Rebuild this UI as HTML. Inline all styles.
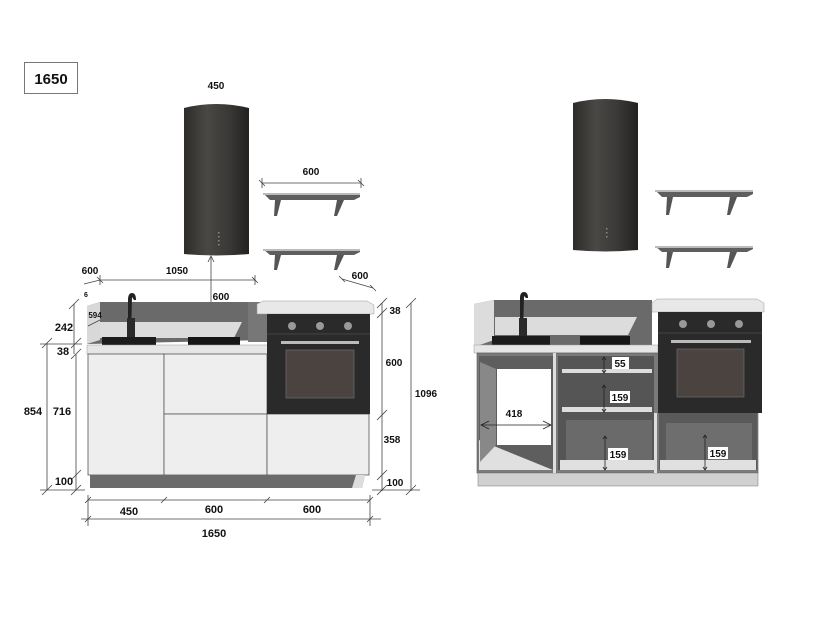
<!DOCTYPE html>
<html><head><meta charset="utf-8"><style>
html,body{margin:0;padding:0;background:#fff;}
svg{display:block;font-family:"Liberation Sans",Arial,sans-serif;font-weight:bold;}
text{font-size:10px;fill:#111;}
</style></head><body>
<svg width="840" height="630" viewBox="0 0 840 630" xmlns="http://www.w3.org/2000/svg">
<defs>
<linearGradient id="hood" x1="0" x2="1">
<stop offset="0" stop-color="#2e2c2a"/><stop offset="0.35" stop-color="#4a4845"/><stop offset="0.7" stop-color="#3a3836"/><stop offset="1" stop-color="#232120"/>
</linearGradient>
</defs>
<rect x="0" y="0" width="840" height="630" fill="#fff"/>
<rect x="24.5" y="62.5" width="53" height="31" fill="#fff" stroke="#777"/>
<text x="51" y="84" text-anchor="middle" style="font-size:15px">1650</text>

<text x="216" y="89" text-anchor="middle">450</text>
<path d="M184,108 Q216,100 249,108 L249,254 Q216,257 184,254 Z" fill="url(#hood)"/>
<g fill="#888"><rect x="218" y="232" width="1.5" height="1.5"/><rect x="218" y="236" width="1.5" height="1.5"/><rect x="218" y="240" width="1.5" height="1.5"/><rect x="218" y="244" width="1.5" height="1.5"/></g>
<line x1="262" y1="183" x2="361" y2="183" stroke="#444" stroke-width="0.8"/>
<path d="M259,180 L265,186 M358,180 L364,186 M262,178 L262,188 M361,178 L361,188" stroke="#444" stroke-width="0.8"/>
<text x="311" y="175" text-anchor="middle">600</text>
<g>
<path d="M263,193 L360,193 L360,197 L354,200 L270,200 Z" fill="#5e5e5e"/><rect x="263" y="193" width="97" height="2" fill="#bbb"/>
<path d="M275,200 L281,200 L277,216 L274,216 Z" fill="#555"/><path d="M337,200 L344,200 L337,216 L334,216 Z" fill="#555"/>
<path d="M263,249 L360,249 L360,252 L354,255 L270,255 Z" fill="#5e5e5e"/><rect x="263" y="249" width="97" height="2" fill="#bbb"/>
<path d="M275,255 L281,255 L277,270 L274,270 Z" fill="#555"/><path d="M337,255 L344,255 L337,270 L334,270 Z" fill="#555"/>
</g>

<g stroke="#444" stroke-width="0.8" fill="none">
<line x1="100" y1="280" x2="255" y2="280"/>
<path d="M97,277 L103,283 M252,277 L258,283 M100,275 L100,285 M255,275 L255,285"/>
<line x1="84" y1="284" x2="100" y2="280"/>
<line x1="342" y1="279" x2="373" y2="288"/>
<path d="M339,276 L345,282 M370,285 L376,291"/>
<line x1="211" y1="256" x2="211" y2="335"/>
<path d="M208,262 L211,256 L214,262 M208,329 L211,335 L214,329"/>
</g>
<text x="90" y="274" text-anchor="middle">600</text>
<text x="177" y="274" text-anchor="middle">1050</text>
<text x="360" y="279" text-anchor="middle">600</text>
<text x="221" y="300" text-anchor="middle">600</text>
<path d="M87,306 L100,302 L268,302 L268,340 L87,344 Z" fill="#6a6a6a"/>
<path d="M87,306 L100,302 L100,340 L87,344 Z" fill="#d8d8d8"/>
<path d="M100,322 L242,322 L234,338 L100,338 Z" fill="#dcdcdc"/>
<rect x="248" y="302" width="20" height="40" fill="#777"/>
<rect x="102" y="337" width="54" height="10" fill="#1c1c1c"/>
<rect x="188" y="337" width="52" height="10" fill="#161616"/>
<path d="M128,337 L128,300 Q128,293 132,293 Q136,293 136,300 L134,300 L132,297 L131,337 Z" fill="#222"/>
<rect x="127" y="318" width="8" height="19" fill="#2a2a2a"/>
<rect x="87" y="345" width="182" height="9" fill="#e6e6e6" stroke="#999" stroke-width="0.5"/>
<text x="86" y="297" text-anchor="middle" style="font-size:7px">6</text>
<text x="95" y="318" text-anchor="middle" style="font-size:8px">594</text>
<line x1="88" y1="326" x2="100" y2="320" stroke="#444" stroke-width="0.7"/>
<rect x="88" y="354" width="76" height="121" fill="#eeeeee" stroke="#555" stroke-width="0.8"/>
<rect x="164" y="354" width="103" height="60" fill="#eeeeee" stroke="#555" stroke-width="0.8"/>
<rect x="164" y="414" width="103" height="61" fill="#eeeeee" stroke="#555" stroke-width="0.8"/>
<rect x="267" y="414" width="102" height="61" fill="#eeeeee" stroke="#555" stroke-width="0.8"/>
<path d="M90,475 L365,475 L362,488 L90,488 Z" fill="#6b6b6b"/>
<path d="M356,475 L365,475 L362,488 L352,488 Z" fill="#ddd"/>
<path d="M257,304 L263,301 L367,301 L374,305 L374,314 L257,314 Z" fill="#e8e8e8" stroke="#999" stroke-width="0.5"/>
<rect x="267" y="314" width="103" height="100" fill="#2a2a2a"/>
<line x1="267" y1="334" x2="370" y2="334" stroke="#444"/>
<circle cx="292" cy="326" r="4" fill="#999"/><circle cx="320" cy="326" r="4" fill="#999"/><circle cx="348" cy="326" r="4" fill="#999"/>
<rect x="281" y="341" width="78" height="3" fill="#bbb"/>
<rect x="286" y="350" width="68" height="48" fill="#4a4340" stroke="#777" stroke-width="0.6"/>
<g stroke="#444" stroke-width="0.8">
<line x1="74" y1="304" x2="74" y2="354"/>
<line x1="76" y1="354" x2="76" y2="490"/>
<line x1="47" y1="343" x2="47" y2="490"/>
<path d="M69,309 L79,299 M42,348 L52,338 M71,348 L81,338 M71,359 L81,349 M71,480 L81,470 M42,495 L52,485 M71,495 L81,485"/>
<line x1="40" y1="344" x2="82" y2="344"/>
<line x1="40" y1="490" x2="85" y2="490"/>
</g>
<text x="64" y="331" text-anchor="middle" style="font-size:11px">242</text>
<text x="63" y="355" text-anchor="middle" style="font-size:11px">38</text>
<text x="33" y="415" text-anchor="middle" style="font-size:11px">854</text>
<text x="62" y="415" text-anchor="middle" style="font-size:11px">716</text>
<text x="64" y="485" text-anchor="middle" style="font-size:11px">100</text>
<g stroke="#444" stroke-width="0.8">
<line x1="382" y1="303" x2="382" y2="491"/>
<line x1="411" y1="303" x2="411" y2="491"/>
<path d="M377,308 L387,298 M377,318 L387,308 M377,420 L387,410 M377,480 L387,470 M377,495 L387,485 M406,308 L416,298 M406,495 L416,485"/>
<line x1="372" y1="490" x2="420" y2="490"/>
</g>
<text x="395" y="314" text-anchor="middle">38</text>
<text x="394" y="366" text-anchor="middle">600</text>
<text x="392" y="443" text-anchor="middle">358</text>
<text x="395" y="486" text-anchor="middle">100</text>
<text x="426" y="397" text-anchor="middle">1096</text>
<g stroke="#444" stroke-width="0.8">
<line x1="88" y1="500" x2="370" y2="500"/>
<line x1="81" y1="519" x2="381" y2="519"/>
<line x1="88" y1="495" x2="88" y2="526"/><line x1="370" y1="495" x2="370" y2="526"/>
<path d="M85,503 L91,497 M161,503 L167,497 M264,503 L270,497 M367,503 L373,497 M85,522 L91,516 M367,522 L373,516"/>
</g>
<text x="129" y="515" text-anchor="middle" style="font-size:11px">450</text>
<text x="214" y="513" text-anchor="middle" style="font-size:11px">600</text>
<text x="312" y="513" text-anchor="middle" style="font-size:11px">600</text>
<text x="214" y="537" text-anchor="middle" style="font-size:11px">1650</text>

<path d="M573,103 Q605,95 638,103 L638,250 Q605,253 573,250 Z" fill="url(#hood)"/>
<g fill="#888"><rect x="606" y="228" width="1.5" height="1.5"/><rect x="606" y="232" width="1.5" height="1.5"/><rect x="606" y="236" width="1.5" height="1.5"/></g>
<path d="M655,190 L753,190 L753,194 L747,197 L662,197 Z" fill="#5e5e5e"/><rect x="655" y="190" width="98" height="2" fill="#bbb"/>
<path d="M667,197 L673,197 L669,215 L666,215 Z" fill="#555"/><path d="M730,197 L737,197 L730,215 L727,215 Z" fill="#555"/>
<path d="M655,246 L753,246 L753,249 L747,252 L662,252 Z" fill="#5e5e5e"/><rect x="655" y="246" width="98" height="2" fill="#bbb"/>
<path d="M667,252 L673,252 L669,268 L666,268 Z" fill="#555"/><path d="M730,252 L737,252 L730,268 L727,268 Z" fill="#555"/>

<path d="M474,304 L494,300 L652,300 L652,345 L474,347 Z" fill="#6a6a6a"/>
<path d="M474,304 L494,300 L494,340 L474,347 Z" fill="#dcdcdc"/>
<path d="M495,317 L637,317 L628,335 L495,335 Z" fill="#dcdcdc"/>
<rect x="492" y="336" width="58" height="9" fill="#1c1c1c"/>
<rect x="580" y="336" width="50" height="9" fill="#161616"/>
<path d="M520,336 L520,298 Q520,292 524,292 Q528,292 528,298 L526,298 L524,296 L523,336 Z" fill="#222"/>
<rect x="519" y="318" width="8" height="18" fill="#2a2a2a"/>
<rect x="474" y="345" width="184" height="8" fill="#e6e6e6" stroke="#999" stroke-width="0.5"/>
<rect x="477" y="353" width="281" height="120" fill="#7a7a7a" stroke="#555" stroke-width="0.6"/>
<rect x="478" y="473" width="280" height="13" fill="#d0d0d0" stroke="#777" stroke-width="0.5"/>
<path d="M479,356 L553,356 L553,470 L479,470 Z" fill="#5e5e5e"/>
<path d="M479,440 L553,470 L479,470 Z" fill="#e0e0e0"/>
<rect x="497" y="369" width="54" height="76" fill="#fff"/>
<path d="M480,362 L496,369 L496,445 L480,462 Z" fill="#888"/>
<rect x="553" y="353" width="3" height="120" fill="#ddd"/>
<rect x="558" y="356" width="96" height="114" fill="#555"/>
<rect x="562" y="369" width="90" height="4" fill="#ddd"/>
<rect x="562" y="407" width="90" height="5" fill="#ddd"/>
<path d="M560,460 L654,460 L654,470 L560,470 Z" fill="#e0e0e0"/>
<path d="M566,420 L652,420 L652,460 L566,460 Z" fill="#6a6a6a"/>
<rect x="654" y="413" width="3" height="60" fill="#ddd"/>
<rect x="659" y="413" width="98" height="57" fill="#5a5a5a"/>
<path d="M666,423 L752,423 L752,460 L666,460 Z" fill="#6e6e6e"/>
<path d="M660,460 L756,460 L756,470 L660,470 Z" fill="#e0e0e0"/>
<path d="M652,303 L657,299 L757,299 L764,303 L764,312 L652,312 Z" fill="#e8e8e8" stroke="#999" stroke-width="0.5"/>
<rect x="658" y="312" width="104" height="101" fill="#2a2a2a"/>
<line x1="658" y1="333" x2="762" y2="333" stroke="#444"/>
<circle cx="683" cy="324" r="4" fill="#999"/><circle cx="711" cy="324" r="4" fill="#999"/><circle cx="739" cy="324" r="4" fill="#999"/>
<rect x="671" y="340" width="80" height="3" fill="#bbb"/>
<rect x="677" y="349" width="67" height="48" fill="#4a4340" stroke="#777" stroke-width="0.6"/>
<g stroke="#222" stroke-width="0.8" fill="none">
<line x1="604" y1="357" x2="604" y2="373"/><path d="M602,360 L604,357 L606,360 M602,370 L604,373 L606,370"/>
<line x1="604" y1="385" x2="604" y2="412"/><path d="M602,388 L604,385 L606,388 M602,409 L604,412 L606,409"/>
<line x1="605" y1="436" x2="605" y2="470"/><path d="M603,439 L605,436 L607,439 M603,467 L605,470 L607,467"/>
<line x1="705" y1="435" x2="705" y2="470"/><path d="M703,438 L705,435 L707,438 M703,467 L705,470 L707,467"/>
<line x1="481" y1="425" x2="551" y2="425"/><path d="M489,421 L481,425 L489,429 M543,421 L551,425 L543,429"/>
</g>
<rect x="612" y="357" width="17" height="12" fill="#fff"/><text x="620" y="367" text-anchor="middle">55</text>
<rect x="610" y="391" width="20" height="12" fill="#fff"/><text x="620" y="401" text-anchor="middle">159</text>
<rect x="608" y="448" width="20" height="12" fill="#fff"/><text x="618" y="458" text-anchor="middle">159</text>
<rect x="708" y="447" width="20" height="12" fill="#fff"/><text x="718" y="457" text-anchor="middle">159</text>
<text x="514" y="417" text-anchor="middle">418</text>
</svg>
</body></html>
